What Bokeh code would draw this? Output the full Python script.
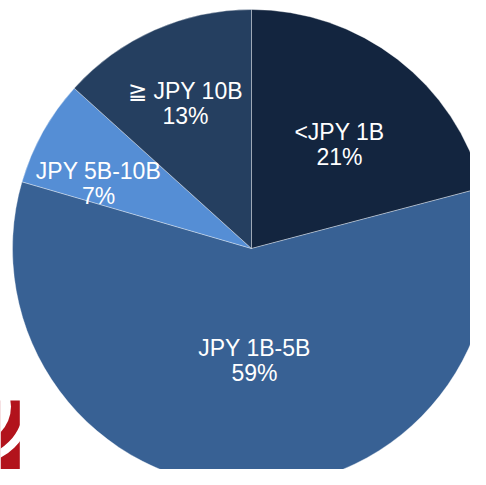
import math
from bokeh.plotting import figure
from bokeh.models import ColumnDataSource, Range1d
from bokeh.core.properties import value
from bokeh.embed import file_html
from bokeh.resources import INLINE

# ---- data ----
categories = ["<JPY 1B", "JPY 1B-5B", "JPY 5B-10B", "\u2267 JPY 10B"]
shares = [20.9, 58.6, 7.2, 13.3]
colors = ["#13253f", "#386194", "#558ed5", "#253f60"]

# ---- layout (screen-pixel based) ----
W, H = 470, 469
PAGE_H = 485
CX, CY_S, R = 251, 248, 239          # pie centre (screen px) and radius
# label anchors: (centre x, first-line y) in screen px
label_pos = [(339, 131), (254, 347), (98, 170), (185, 90)]
LINE_GAP = 25

def sy(y):
    return PAGE_H - y

total = sum(shares)
starts, ends = [], []
cum = 0.0
for v in shares:
    a0 = math.pi / 2 - 2 * math.pi * cum / total
    cum += v
    a1 = math.pi / 2 - 2 * math.pi * cum / total
    starts.append(a0)
    ends.append(a1)

src = ColumnDataSource(dict(start=starts, end=ends, color=colors, cat=categories))

p = figure(width=W, height=H, output_backend="svg", toolbar_location=None,
           x_range=Range1d(0, W), y_range=Range1d(PAGE_H - H, PAGE_H),
           x_axis_type=None, y_axis_type=None, min_border=0,
           background_fill_color="white", border_fill_color="white")
p.outline_line_color = None
p.grid.visible = False

# corner logo fragment (decoration)
p.quad(left=0, right=19.3, bottom=0, top=sy(400), fill_color="#b2131c", line_color=None)
p.annulus(x=-27, y=sy(406), inner_radius=50, outer_radius=58, fill_color="white", line_color=None)
p.circle(x=-27, y=sy(406), radius=37.5, fill_color="white", line_color=None)

p.wedge(x=CX, y=sy(CY_S), radius=R, start_angle="start", end_angle="end",
        direction="clock", fill_color="color", line_color="white", line_alpha=0.35,
        line_width=1, source=src)

names_x = [lp[0] for lp in label_pos]
names_y = [sy(lp[1]) for lp in label_pos]
pct_y = [sy(lp[1] + LINE_GAP) for lp in label_pos]
pct_txt = [f"{v / total * 100:.0f}%" for v in shares]

p.text(x=names_x, y=names_y, text=categories, text_align="center",
       text_baseline="alphabetic", text_color="white",
       text_font=value("Liberation Sans"), text_font_size="23px")
p.text(x=names_x, y=pct_y, text=pct_txt, text_align="center",
       text_baseline="alphabetic", text_color="white",
       text_font=value("Liberation Sans"), text_font_size="23px")

open("out.html", "w").write(file_html(p, INLINE))
